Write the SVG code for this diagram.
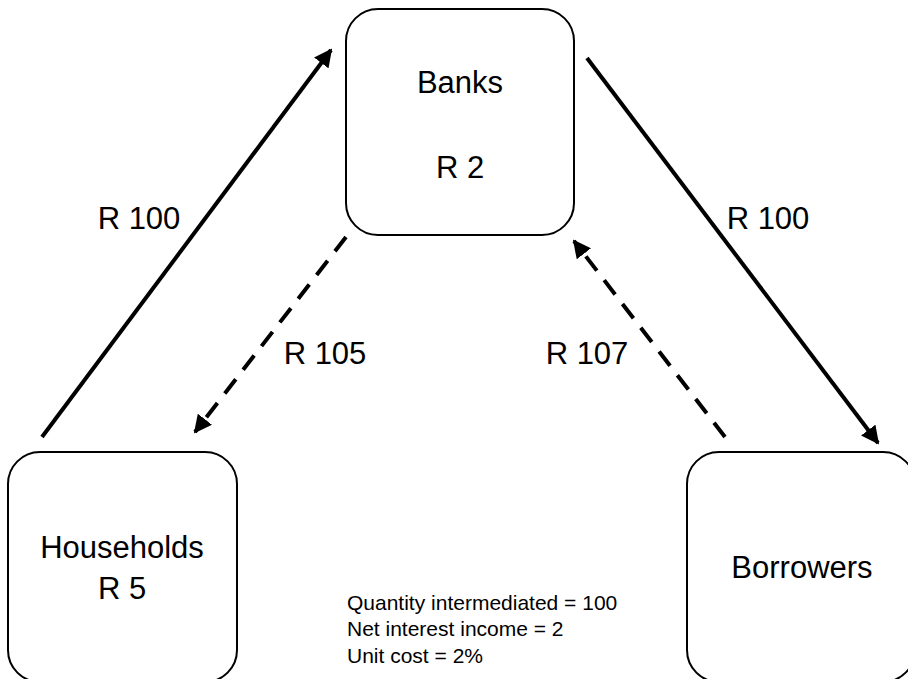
<svg xmlns="http://www.w3.org/2000/svg" width="908" height="679" viewBox="0 0 908 679">
<style>
.box{fill:#fff;stroke:#000;stroke-width:2}
.t{font-family:"Liberation Sans",Arial,sans-serif;fill:#000;text-anchor:middle}
.big{font-size:31px}
.small{font-size:21px;text-anchor:start}
.solid{stroke:#000;stroke-width:4;fill:none}
.dash{stroke:#000;stroke-width:4;fill:none;stroke-dasharray:18 12}
</style>
<defs>
<marker id="ah" viewBox="0 0 10 10" refX="9" refY="5" markerWidth="4.5" markerHeight="4.5" markerUnits="strokeWidth" orient="auto">
<path d="M0,0 L10,5 L0,10 z" fill="#000"/>
</marker>
</defs>
<rect width="908" height="679" fill="#fff"/>
<g id="connectors">
<line class="solid" x1="42" y1="437" x2="331" y2="50" marker-end="url(#ah)"/>
<line class="solid" x1="587" y1="58" x2="878" y2="443" marker-end="url(#ah)"/>
<line class="dash" x1="346" y1="237" x2="195" y2="432" marker-end="url(#ah)"/>
<line class="dash" x1="725" y1="437" x2="574" y2="241" marker-end="url(#ah)"/>
<text class="t big" x="139" y="229">R 100</text>
<text class="t big" x="768" y="229">R 100</text>
<text class="t big" x="325" y="364">R 105</text>
<text class="t big" x="587" y="364">R 107</text>
</g>
<g id="banks">
<rect class="box" x="346" y="9" width="228" height="226" rx="32"/>
<text class="t big" x="460" y="93">Banks</text>
<text class="t big" x="460" y="178">R 2</text>
</g>
<g id="households">
<rect class="box" x="8" y="452" width="229" height="230" rx="32"/>
<text class="t big" x="122" y="558">Households</text>
<text class="t big" x="122" y="599">R 5</text>
</g>
<g id="borrowers">
<rect class="box" x="687" y="452" width="228" height="230" rx="32"/>
<text class="t big" x="802" y="578">Borrowers</text>
</g>
<g id="summary">
<text class="t small" x="347" y="610">Quantity intermediated = 100</text>
<text class="t small" x="347" y="636">Net interest income = 2</text>
<text class="t small" x="347" y="663">Unit cost = 2%</text>
</g>
</svg>
